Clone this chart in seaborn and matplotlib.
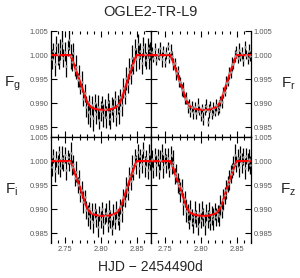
import numpy as np
import pandas as pd
import matplotlib
matplotlib.use("Agg")
import matplotlib.pyplot as plt
from matplotlib.ticker import MultipleLocator, FormatStrFormatter
import seaborn as sns

# --- Data (HJD - 2454490, relative flux) ---
times = [
    2.7312, 2.7331, 2.7352, 2.7371, 2.7393, 2.7412, 2.7431, 2.7453, 2.7472, 2.7491,
    2.7513, 2.7532, 2.7551, 2.7573, 2.7592, 2.7611, 2.7633, 2.7652, 2.7671, 2.7693,
    2.7712, 2.7731, 2.7753, 2.7772, 2.7791, 2.7813, 2.7832, 2.7851, 2.7873, 2.7892,
    2.7911, 2.7933, 2.7952, 2.7971, 2.7993, 2.8012, 2.8031, 2.8053, 2.8072, 2.8091,
    2.8113, 2.8132, 2.8151, 2.8173, 2.8192, 2.8211, 2.8233, 2.8252, 2.8271, 2.8293,
    2.8312, 2.8331, 2.8353, 2.8372, 2.8391, 2.8413, 2.8432, 2.8451, 2.8473, 2.8492,
    2.8511, 2.8533, 2.8552, 2.8571, 2.8593, 2.8612, 2.8631, 2.8653, 2.8672, 2.8691,
]

flux_g = [
    0.9992, 1.0008, 0.9981, 1.0021, 1.0003, 0.9986, 1.0012, 1.0026, 0.9994, 1.0007,
    0.9978, 1.0015, 1.0031, 0.9998, 0.9986, 1.0004, 0.9969, 0.9975, 0.9948, 0.9957,
    0.9931, 0.9945, 0.9908, 0.9922, 0.9893, 0.9881, 0.9902, 0.9873, 0.9896, 0.9869,
    0.9901, 0.9878, 0.9893, 0.9866, 0.9884, 0.9899, 0.9875, 0.9889, 0.9872, 0.9903,
    0.9881, 0.9868, 0.9894, 0.9885, 0.9908, 0.9874, 0.9897, 0.9883, 0.9912, 0.9897,
    0.9931, 0.9915, 0.9952, 0.9941, 0.9972, 0.9961, 0.9994, 0.9979, 1.0013, 0.9991,
    1.0024, 0.9996, 1.0009, 0.9983, 1.0017, 1.0002, 0.9989, 1.0014, 0.9997, 1.0008,
]
flux_r = [
    1.0006, 0.9994, 1.0012, 0.9989, 1.0003, 0.9997, 1.0015, 0.9991, 1.0008, 0.9986,
    1.0004, 1.0019, 0.9995, 1.0007, 0.9998, 0.9981, 0.9984, 0.9962, 0.9966, 0.9946,
    0.9944, 0.9927, 0.9929, 0.9909, 0.9911, 0.9892, 0.9899, 0.9884, 0.9893, 0.9881,
    0.9892, 0.9879, 0.9896, 0.9885, 0.9876, 0.9890, 0.9868, 0.9887, 0.9895, 0.9862,
    0.9884, 0.9893, 0.9878, 0.9889, 0.9882, 0.9897, 0.9886, 0.9893, 0.9905, 0.9903,
    0.9922, 0.9924, 0.9943, 0.9945, 0.9963, 0.9964, 0.9982, 0.9981, 0.9998, 1.0006,
    0.9993, 1.0011, 0.9997, 1.0004, 0.9989, 1.0016, 1.0001, 0.9994, 1.0009, 0.9998,
]
flux_i = [
    0.9988, 1.0011, 0.9979, 1.0004, 0.9993, 1.0018, 0.9985, 1.0007, 0.9996, 1.0013,
    0.9982, 1.0009, 0.9998, 1.0016, 0.9987, 0.9993, 0.9964, 0.9978, 0.9951, 0.9962,
    0.9932, 0.9941, 0.9915, 0.9925, 0.9898, 0.9887, 0.9902, 0.9879, 0.9895, 0.9873,
    0.9898, 0.9882, 0.9864, 0.9891, 0.9879, 0.9901, 0.9870, 0.9886, 0.9893, 0.9868,
    0.9897, 0.9880, 0.9862, 0.9889, 0.9875, 0.9899, 0.9884, 0.9878, 0.9906, 0.9894,
    0.9925, 0.9918, 0.9947, 0.9936, 0.9969, 0.9958, 0.9989, 0.9976, 1.0008, 0.9993,
    1.0019, 0.9986, 1.0011, 0.9995, 1.0023, 0.9989, 1.0006, 0.9981, 1.0014, 0.9997,
]
flux_z = [
    1.0005, 0.9984, 1.0013, 0.9991, 1.0008, 0.9979, 1.0002, 1.0017, 0.9988, 1.0010,
    0.9995, 1.0006, 0.9983, 1.0012, 0.9991, 0.9999, 0.9969, 0.9975, 0.9955, 0.9948,
    0.9936, 0.9945, 0.9911, 0.9921, 0.9897, 0.9891, 0.9876, 0.9899, 0.9883, 0.9871,
    0.9895, 0.9881, 0.9866, 0.9892, 0.9877, 0.9898, 0.9884, 0.9869, 0.9893, 0.9880,
    0.9895, 0.9873, 0.9887, 0.9879, 0.9896, 0.9884, 0.9891, 0.9887, 0.9909, 0.9898,
    0.9920, 0.9929, 0.9941, 0.9952, 0.9961, 0.9973, 0.9981, 0.9991, 1.0012, 0.9994,
    1.0007, 0.9988, 1.0015, 0.9996, 1.0009, 0.9985, 1.0011, 0.9998, 1.0004, 0.9992,
]

err_g = [
    0.0021, 0.0017, 0.0025, 0.0019, 0.0023, 0.0015, 0.0022, 0.0028, 0.0018, 0.0020,
    0.0024, 0.0016, 0.0021, 0.0026, 0.0019, 0.0022, 0.0012, 0.0025, 0.0014, 0.0023,
    0.0011, 0.0021, 0.0013, 0.0019, 0.0022, 0.0024, 0.0016, 0.0023, 0.0020, 0.0026,
    0.0018, 0.0022, 0.0025, 0.0019, 0.0021, 0.0017, 0.0024, 0.0020, 0.0023, 0.0018,
    0.0026, 0.0021, 0.0019, 0.0024, 0.0017, 0.0022, 0.0020, 0.0025, 0.0018, 0.0023,
    0.0021, 0.0016, 0.0024, 0.0019, 0.0022, 0.0020, 0.0027, 0.0018, 0.0021, 0.0023,
    0.0019, 0.0025, 0.0017, 0.0022, 0.0020, 0.0024, 0.0018, 0.0021, 0.0026, 0.0019,
]
err_r = [
    0.0011, 0.0009, 0.0014, 0.0010, 0.0012, 0.0008, 0.0013, 0.0016, 0.0010, 0.0011,
    0.0013, 0.0009, 0.0012, 0.0015, 0.0010, 0.0012, 0.0009, 0.0014, 0.0011, 0.0013,
    0.0010, 0.0012, 0.0015, 0.0010, 0.0012, 0.0013, 0.0009, 0.0013, 0.0011, 0.0014,
    0.0010, 0.0012, 0.0014, 0.0010, 0.0012, 0.0009, 0.0013, 0.0011, 0.0013, 0.0010,
    0.0015, 0.0012, 0.0010, 0.0013, 0.0009, 0.0012, 0.0011, 0.0014, 0.0010, 0.0013,
    0.0012, 0.0009, 0.0013, 0.0010, 0.0012, 0.0011, 0.0015, 0.0010, 0.0012, 0.0013,
    0.0010, 0.0014, 0.0009, 0.0012, 0.0011, 0.0013, 0.0010, 0.0012, 0.0014, 0.0010,
]
err_i = [
    0.0018, 0.0015, 0.0022, 0.0016, 0.0020, 0.0013, 0.0019, 0.0024, 0.0016, 0.0017,
    0.0021, 0.0014, 0.0018, 0.0023, 0.0016, 0.0019, 0.0015, 0.0022, 0.0017, 0.0020,
    0.0016, 0.0018, 0.0023, 0.0016, 0.0019, 0.0021, 0.0014, 0.0020, 0.0017, 0.0022,
    0.0016, 0.0019, 0.0022, 0.0016, 0.0018, 0.0015, 0.0021, 0.0017, 0.0020, 0.0016,
    0.0023, 0.0018, 0.0016, 0.0021, 0.0015, 0.0019, 0.0017, 0.0022, 0.0016, 0.0020,
    0.0018, 0.0014, 0.0021, 0.0016, 0.0019, 0.0017, 0.0023, 0.0016, 0.0018, 0.0020,
    0.0016, 0.0022, 0.0015, 0.0019, 0.0017, 0.0021, 0.0016, 0.0018, 0.0022, 0.0016,
]
err_z = [
    0.0017, 0.0020, 0.0015, 0.0022, 0.0018, 0.0016, 0.0021, 0.0019, 0.0024, 0.0017,
    0.0019, 0.0022, 0.0016, 0.0020, 0.0018, 0.0023, 0.0017, 0.0019, 0.0021, 0.0016,
    0.0020, 0.0018, 0.0022, 0.0017, 0.0024, 0.0019, 0.0016, 0.0021, 0.0018, 0.0020,
    0.0023, 0.0017, 0.0019, 0.0021, 0.0016, 0.0020, 0.0018, 0.0022, 0.0017, 0.0019,
    0.0021, 0.0016, 0.0020, 0.0023, 0.0018, 0.0019, 0.0017, 0.0021, 0.0020, 0.0016,
    0.0022, 0.0018, 0.0019, 0.0017, 0.0021, 0.0018, 0.0016, 0.0020, 0.0023, 0.0017,
    0.0019, 0.0021, 0.0016, 0.0020, 0.0018, 0.0022, 0.0017, 0.0019, 0.0021, 0.0018,
]

# transit model (red curve), same shape in all four bands
model_t = [
    2.725, 2.757, 2.760, 2.763, 2.766, 2.769, 2.772, 2.775, 2.778, 2.781,
    2.785, 2.790, 2.797, 2.804, 2.811, 2.817, 2.822, 2.826, 2.829, 2.832,
    2.835, 2.838, 2.841, 2.844, 2.847, 2.850, 2.875,
]
model_f = [
    1.0000, 1.0000, 0.9990, 0.9977, 0.9964, 0.9951, 0.9939, 0.9926, 0.9912, 0.9901,
    0.9893, 0.9889, 0.9887, 0.9886, 0.9887, 0.9889, 0.9893, 0.9900, 0.9910, 0.9923,
    0.9937, 0.9951, 0.9964, 0.9977, 0.9990, 1.0000, 1.0000,
]

bands = ["g", "r", "i", "z"]
fluxes = [flux_g, flux_r, flux_i, flux_z]
errors = [err_g, err_r, err_i, err_z]

# --- Style ---
sns.set_style("ticks")
plt.rcParams["font.family"] = ["Liberation Sans", "DejaVu Sans"]
plt.rcParams["mathtext.default"] = "regular"

fig = plt.figure(figsize=(3.0, 2.78), dpi=100)
W, H = 300.0, 278.0

# panel boxes in pixels: (left, top)
boxes = [(51, 31), (151, 31), (51, 137), (151, 137)]
pw, ph = 100, 106

model_df = pd.DataFrame({"t": model_t, "flux": model_f})

for k, (band, fl, er) in enumerate(zip(bands, fluxes, errors)):
    x0, y0 = boxes[k]
    ax = fig.add_axes([x0 / W, (H - y0 - ph) / H, pw / W, ph / H])

    ax.errorbar(times, fl, yerr=er, fmt="none", ecolor="black", elinewidth=0.9,
                capsize=0, zorder=2)
    pts = pd.DataFrame({"t": times, "flux": fl})
    sns.scatterplot(data=pts, x="t", y="flux", ax=ax, color="#a0a0a0", s=3,
                    linewidth=0, zorder=4)
    sns.lineplot(data=model_df, x="t", y="flux", ax=ax, color="red",
                 linewidth=1.6, estimator=None, sort=False, zorder=3)

    ax.set_xlim(2.73, 2.87)
    ax.set_ylim(0.983, 1.005)
    ax.set_xlabel("")
    ax.set_ylabel("")

    ax.xaxis.set_major_locator(MultipleLocator(0.05))
    ax.xaxis.set_minor_locator(MultipleLocator(0.01))
    ax.yaxis.set_major_locator(MultipleLocator(0.005))
    ax.xaxis.set_major_formatter(FormatStrFormatter("%.2f"))
    ax.yaxis.set_major_formatter(FormatStrFormatter("%.3f"))

    top_row = k < 2
    left_col = k % 2 == 0
    ax.tick_params(axis="both", which="both", direction="in",
                   top=True, bottom=True, left=True, right=True,
                   width=0.8, colors="black", labelcolor="#555555", labelsize=5.4)
    ax.tick_params(which="major", length=4, pad=2)
    ax.tick_params(which="minor", length=2)
    ax.tick_params(axis="x", labelbottom=not top_row, labeltop=False)
    ax.tick_params(axis="y", labelleft=left_col, labelright=not left_col)

    for s in ax.spines.values():
        s.set_linewidth(0.9)
        s.set_color("black")
    if top_row:
        ax.spines["top"].set_visible(False)
    else:
        ax.spines["bottom"].set_visible(False)

    # band label F_x beside each panel
    lx = 12 if left_col else 288
    ly = y0 + ph / 2
    fig.text(lx / W, 1 - ly / H, r"F$_{%s}$" % band, fontsize=11,
             ha="center", va="center")

fig.text(0.5, 1 - 12 / H, "OGLE2-TR-L9", fontsize=10.5, ha="center", va="center")
fig.text(0.5, 1 - 267 / H, "HJD \u2212 2454490d", fontsize=10, ha="center", va="center")

fig.savefig("out.png", dpi=100)
